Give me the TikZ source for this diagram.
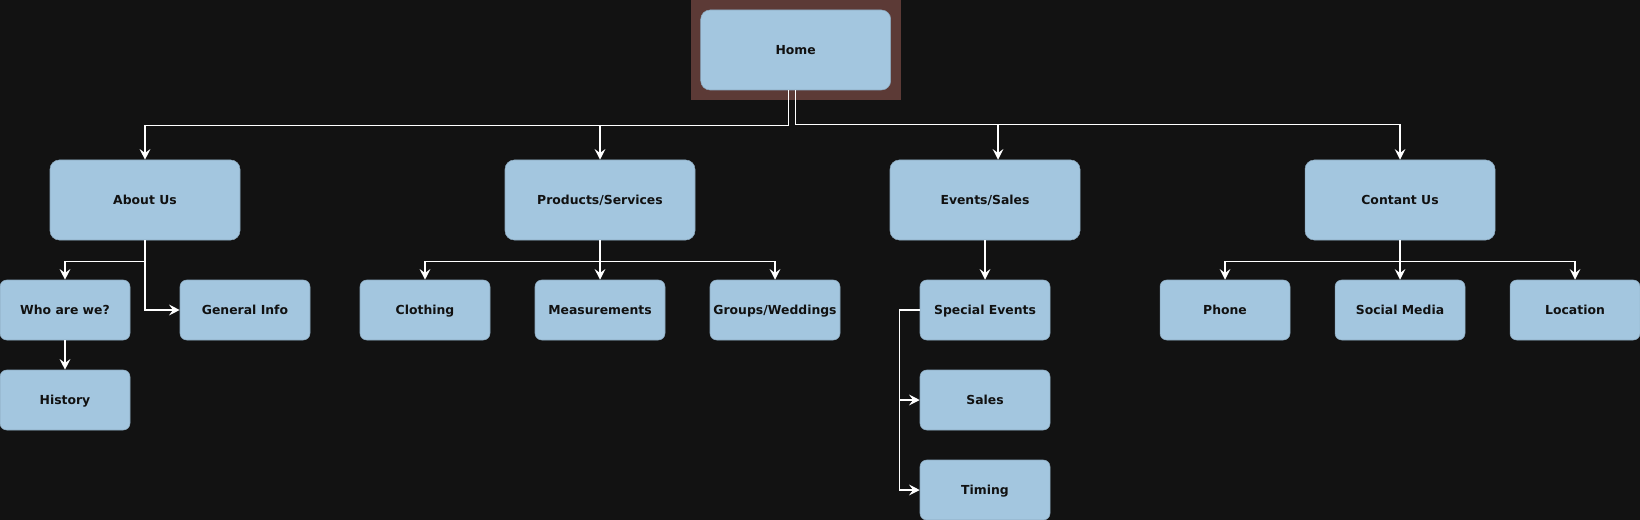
\documentclass[tikz,border=0pt]{standalone}
\usepackage{fontspec}
\setmainfont{DejaVu Sans}
\usetikzlibrary{arrows.meta}
\definecolor{bgdark}{HTML}{121212}
\definecolor{boxblue}{HTML}{A3C6DF}
\definecolor{homebrown}{HTML}{5C3A36}
\definecolor{inkdark}{HTML}{111111}

\begin{document}
\begin{tikzpicture}[x=0.75pt,y=-0.75pt,
    page/.style={rectangle,rounded corners=7pt,fill=boxblue,draw=boxblue!85!black,line width=0.4pt,
        text=inkdark,font=\fontsize{9.3}{11}\selectfont\bfseries,inner sep=0pt,
        text height=1.6ex,text depth=0.3ex,
        minimum width=142.5pt,minimum height=60pt},
    subpage/.style={page,rounded corners=5pt,minimum width=97.5pt,minimum height=45pt},
    link/.style={draw=white,line width=1.1pt,-{Stealth[length=8pt,width=8pt,inset=3pt]}}]
    \fill[bgdark] (0,0) rectangle (1640,520);
    \useasboundingbox (0,0) rectangle (1640,520);

    \node[fill=homebrown,minimum width=157.5pt,minimum height=75pt,inner sep=0pt] (homeframe) at (795.7,50) {};
    \node[page] (home) at (795.7,50) {Home};

    \node[page] (about) at (145,200) {About Us};
    \node[page] (products) at (600,200) {Products/Services};
    \node[page] (events) at (985,200) {Events/Sales};
    \node[page] (contact) at (1400,200) {Contant Us};

    \node[subpage] (who) at (65,310) {Who are we?};
    \node[subpage] (general) at (245,310) {General Info};
    \node[subpage] (history) at (65,400) {History};

    \node[subpage] (clothing) at (425,310) {Clothing};
    \node[subpage] (measure) at (600,310) {Measurements};
    \node[subpage] (groups) at (775,310) {Groups/Weddings};

    \node[subpage] (special) at (985,310) {Special Events};
    \node[subpage] (sales) at (985,400) {Sales};
    \node[subpage] (timing) at (985,490) {Timing};

    \node[subpage] (phone) at (1225,310) {Phone};
    \node[subpage] (social) at (1400,310) {Social Media};
    \node[subpage] (location) at (1575,310) {Location};

    % home to the main pages
    \draw[link] ([xshift=-5.5pt]home.south) -- ++(0,35.5) -| (about);
    \draw[link] ([xshift=-5.5pt]home.south) -- ++(0,35.5) -| (products);
    \draw[link] (home.south) -- ++(0,34) -| ([xshift=9.75pt]events.north);
    \draw[link] (home.south) -- ++(0,34) -| (contact);

    % about us
    \draw[link] (about.south) -- ++(0,21) -| (who);
    \draw[link] (about.south) |- (general);
    \draw[link] (who) -- (history);

    % products
    \draw[link] (products.south) -- ++(0,21) -| (clothing);
    \draw[link] (products.south) -- ++(0,21) -| (measure);
    \draw[link] (products.south) -- ++(0,21) -| (groups);

    % events
    \draw[link] (events) -- (special);
    \draw[link] (special.west) -- ++(-20,0) |- (sales);
    \draw[link] (special.west) -- ++(-20,0) |- (timing);

    % contact
    \draw[link] (contact.south) -- ++(0,21) -| (phone);
    \draw[link] (contact.south) -- ++(0,21) -| (social);
    \draw[link] (contact.south) -- ++(0,21) -| (location);
\end{tikzpicture}
\end{document}
